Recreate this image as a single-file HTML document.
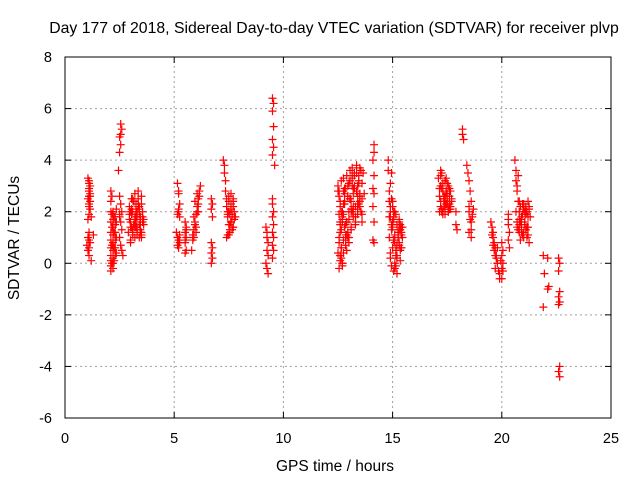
<!DOCTYPE html>
<html><head><meta charset="utf-8"><style>
html,body{margin:0;padding:0;background:#fff;}
svg{display:block;font-family:"Liberation Sans",sans-serif;}
</style></head><body>
<svg id="chart" width="640" height="480">
<text x="334" y="33" font-size="15.8" text-anchor="middle">Day 177 of 2018, Sidereal Day-to-day VTEC variation (SDTVAR) for receiver plvp</text>
<text x="335" y="471" font-size="15.5" text-anchor="middle">GPS time / hours</text>
<text x="0" y="0" font-size="15.5" text-anchor="middle" transform="translate(19,238) rotate(-90)">SDTVAR / TECUs</text>
<g id="grid"></g>
<g id="ticks"></g>
<g id="marks"></g>
<rect x="65" y="57" width="546" height="361" fill="none" stroke="#000" stroke-width="1"/>
</svg>
<script>
const xTicks=[0,5,10,15,20,25];
const yTicks=[-6,-4,-2,0,2,4,6,8];
const hours=[
1.05,1.1,1.1,1.15,1.1,1.05,1.1,1.15,1.1,1.2,1.05,1.1,1.15,1.1,1.05,1.1,1.0,1.05,1.1,1.3,1.2,
2.1,2.1,2.1,2.1,2.1,2.1,2.1,2.1,2.1,2.1,2.1,2.2,2.2,2.2,2.2,2.2,2.2,2.2,2.2,2.2,2.3,2.3,2.3,2.3,2.3,2.3,
2.55,2.6,2.55,2.5,2.55,2.5,2.45,2.5,2.55,2.6,2.5,2.55,2.6,2.5,2.55,2.6,2.65,2.5,
2.9,2.95,3.0,3.0,3.05,3.1,3.1,3.15,3.2,3.2,3.25,3.3,3.3,3.35,3.4,3.4,3.45,3.5,3.5,3.55,3.6,2.95,3.05,3.15,3.25,3.35,3.45,3.55,3.0,3.2,3.4,3.1,3.3,3.5,
5.15,5.2,5.2,5.25,5.2,5.15,5.1,5.15,5.2,5.25,5.15,5.2,
5.5,5.55,5.5,5.55,5.5,5.55,5.5,
5.8,5.85,5.9,5.95,6.0,6.05,6.1,6.15,6.2,5.85,5.95,6.05,6.15,5.9,6.0,6.1,
6.7,6.75,6.7,6.75,6.7,6.75,6.7,6.75,6.7,
7.25,7.3,7.3,7.35,7.35,7.4,7.4,7.45,7.5,7.5,7.55,7.6,7.6,7.65,7.7,7.7,7.75,7.45,7.55,7.65,7.5,7.6,7.7,7.4,7.6,
9.2,9.25,9.25,9.3,9.25,9.3,9.2,9.25,9.3,9.5,9.5,9.55,9.5,9.55,9.5,9.55,9.5,9.55,9.5,9.5,9.55,9.5,9.55,9.5,9.55,9.5,9.6,
12.5,12.5,12.55,12.55,12.6,12.6,12.6,12.65,12.65,12.7,12.7,12.75,12.75,12.8,12.8,12.85,12.9,12.9,12.95,13.0,13.0,13.05,13.1,13.1,13.15,13.2,13.2,13.25,13.3,13.3,13.35,13.4,13.4,13.45,13.5,13.5,13.55,13.6,13.6,13.65,13.7,12.55,12.65,12.75,12.85,12.95,13.05,13.15,12.6,12.7,12.8,12.9,13.0,13.1,13.2,13.3,13.4,13.5,13.6,12.5,12.6,12.7,
14.15,14.15,14.1,14.15,14.1,14.15,14.1,14.15,14.1,14.15,
14.8,14.8,14.85,14.85,14.9,14.9,14.9,14.95,14.95,15.0,15.0,15.05,15.05,15.1,15.1,15.15,15.2,15.2,15.25,15.3,15.3,15.35,15.4,15.4,15.45,14.85,14.95,15.05,15.15,15.25,15.35,14.9,15.0,15.1,15.2,15.3,15.4,
17.1,17.15,17.2,17.2,17.25,17.3,17.3,17.35,17.4,17.4,17.45,17.5,17.5,17.55,17.6,17.6,17.65,17.7,17.15,17.25,17.35,17.45,17.55,17.65,17.2,17.4,17.6,17.9,17.9,17.95,
18.2,18.2,18.25,18.4,18.45,18.5,18.5,18.55,18.6,18.6,18.65,18.7,18.5,18.6,
19.5,19.55,19.6,19.6,19.65,19.7,19.7,19.75,19.8,19.8,19.85,19.9,19.7,
20.0,20.0,20.05,20.05,20.0,20.05,20.3,20.3,20.35,20.3,20.35,20.3,
20.6,20.65,20.65,20.7,20.7,20.75,20.8,20.8,20.85,20.9,20.9,20.95,21.0,21.0,21.05,21.1,21.1,21.15,21.2,21.2,21.25,21.3,20.7,20.8,20.9,21.0,21.1,21.2,
21.9,21.95,21.9,22.1,22.15,22.1,
22.6,22.65,22.6,22.65,22.6,22.65,22.6,22.65,22.6,22.65,
1.1,1.15,1.1,1.15,1.1,1.15,1.1,
2.15,2.15,2.15,2.15,2.15,2.25,2.25,2.25,2.25,2.35,2.35,2.35,2.35,
2.95,3.0,3.05,3.1,3.15,3.2,3.25,3.3,3.35,3.4,3.45,3.5,3.55,3.0,3.1,3.2,3.3,3.4,3.5,3.6,3.05,3.15,3.25,3.35,3.45,
5.2,5.25,5.2,5.25,5.55,5.5,5.9,6.0,6.1,5.95,6.05,
7.45,7.5,7.55,7.6,7.65,7.7,7.75,7.5,7.6,7.7,7.8,7.45,7.55,
12.55,12.6,12.65,12.7,12.75,12.8,12.85,12.9,12.95,13.0,13.05,13.1,13.15,13.2,13.25,13.3,13.35,13.4,13.45,13.5,13.55,13.6,12.55,12.6,12.65,12.7,12.75,12.8,12.85,12.9,12.95,13.0,13.05,13.1,13.15,13.2,13.25,13.3,13.35,13.4,13.45,13.5,12.55,12.65,12.75,12.85,12.95,13.05,13.15,13.25,13.35,13.45,12.6,12.7,12.8,
14.85,14.9,14.95,15.0,15.05,15.1,15.15,15.2,15.25,15.3,15.35,15.4,15.45,14.9,15.0,15.1,15.2,15.3,15.4,15.05,15.15,15.25,15.35,14.95,15.05,
17.15,17.2,17.25,17.3,17.35,17.4,17.45,17.5,17.55,17.6,17.65,17.2,17.3,17.4,17.5,17.6,17.7,17.25,17.35,17.45,17.55,18.5,18.55,18.6,18.65,
19.55,19.6,19.65,19.75,19.8,19.9,19.95,20.0,
20.65,20.7,20.75,20.8,20.85,20.9,20.95,21.0,21.05,21.1,21.15,21.2,21.25,20.75,20.85,20.95,21.05,21.15,21.25,20.8,20.9,21.0,21.1
];
const sdtvar=[
3.3,3.1,2.9,2.7,2.6,2.5,2.3,2.1,1.9,1.8,1.7,2.8,2.6,1.2,1.0,0.9,0.7,0.5,0.3,1.1,0.1,
2.8,2.4,2.0,1.6,1.2,0.9,0.6,0.3,0.1,-0.1,-0.3,2.0,1.7,1.4,1.1,0.8,0.5,0.2,0.0,-0.2,1.8,1.5,1.2,0.9,0.6,0.3,
5.4,5.2,5.0,4.9,4.6,4.3,3.6,2.6,2.3,2.0,1.8,1.6,1.3,1.0,0.7,0.5,0.3,1.9,
1.2,2.2,1.6,0.9,2.5,1.1,2.0,1.5,2.7,1.0,2.3,1.8,1.3,2.8,1.0,2.1,1.6,2.6,1.2,2.0,1.5,1.9,1.4,2.4,1.7,2.2,1.3,1.8,0.8,1.4,1.9,2.5,2.0,1.1,
3.1,2.8,2.7,2.3,2.0,1.9,1.2,1.0,0.9,0.8,0.7,0.6,
1.6,1.4,1.2,1.0,0.8,0.5,0.4,
0.5,0.9,1.3,1.6,1.9,2.2,2.5,2.8,3.0,1.1,1.5,2.0,2.6,1.8,1.2,2.3,
2.5,2.3,2.1,1.8,0.8,0.6,0.4,0.2,0.0,
4.0,3.8,3.5,3.2,2.8,2.5,2.2,1.9,1.5,2.4,1.2,2.1,1.6,1.8,1.4,2.2,1.7,1.1,1.9,1.3,2.0,1.6,2.5,1.0,2.7,
1.4,1.2,1.0,0.8,0.5,0.3,0.0,-0.2,-0.4,2.5,2.3,2.0,1.8,1.5,1.2,1.0,0.7,0.5,0.2,6.4,6.2,5.9,5.3,4.8,4.5,4.2,3.8,
3.0,0.4,2.6,-0.2,2.2,0.1,1.2,3.2,0.6,1.8,-0.1,2.8,0.4,1.4,2.3,0.9,3.4,1.6,2.6,0.8,2.0,3.6,1.4,2.4,3.7,1.8,2.9,3.5,2.2,1.6,3.8,2.6,1.9,3.4,2.4,3.7,2.0,3.1,1.6,3.5,2.7,1.0,2.0,3.3,2.9,1.2,2.5,3.0,0.3,1.7,2.4,1.1,3.1,2.1,2.7,1.5,3.0,2.2,1.9,2.8,1.6,0.0,
4.6,4.3,4.0,3.4,2.9,2.7,2.2,1.6,0.9,0.8,
4.0,3.6,2.4,1.0,2.0,0.2,3.1,1.5,-0.1,2.2,0.6,1.8,-0.3,1.1,2.0,0.5,1.5,-0.4,1.2,0.8,1.7,0.1,1.4,0.6,1.0,2.8,1.3,0.9,0.3,1.0,1.3,1.8,2.4,0.0,0.7,1.6,1.2,
3.3,2.6,3.0,2.2,3.5,2.8,2.0,2.5,3.2,1.9,2.7,2.3,3.1,2.0,2.6,2.9,2.2,2.4,2.0,2.9,2.5,3.3,2.1,2.8,3.6,2.4,2.1,2.0,1.5,1.3,
5.2,5.0,4.8,3.8,3.5,3.2,2.0,2.8,1.6,2.4,1.9,2.1,1.2,1.0,
1.6,1.4,1.2,1.0,0.8,0.6,0.3,0.2,0.6,0.0,-0.3,-0.6,-0.2,
0.8,0.3,0.0,-0.3,-0.6,0.5,1.9,1.5,1.2,0.9,0.6,1.7,
4.0,3.6,3.2,2.8,1.6,2.4,1.2,2.0,0.9,1.8,1.4,2.3,1.0,2.1,1.6,2.2,1.3,2.0,2.4,1.1,2.1,1.8,3.0,1.5,1.7,1.2,1.9,1.4,
0.3,-0.4,-1.7,0.2,-0.9,-1.0,
0.2,0.0,-0.3,-1.1,-1.3,-1.5,-1.6,-4.0,-4.2,-4.4,
3.2,3.0,2.8,2.4,2.2,0.8,0.6,
2.6,1.9,1.4,0.7,0.0,1.8,1.2,0.6,0.1,2.1,1.6,1.0,0.4,
1.7,1.4,2.1,1.3,2.4,1.7,2.0,1.1,2.3,1.5,1.8,2.3,1.6,2.0,1.2,1.8,1.4,2.2,1.0,1.7,1.9,1.5,1.4,2.5,1.2,
2.1,1.8,0.9,1.1,1.3,0.9,1.0,1.4,2.0,2.4,2.7,
1.8,2.6,1.5,2.3,1.9,1.4,2.0,1.1,1.6,2.4,1.8,2.0,1.3,
2.8,1.5,0.2,2.0,0.9,2.7,1.1,0.5,3.0,1.7,2.5,1.3,3.3,2.1,2.9,1.8,3.5,2.3,3.1,2.7,3.6,2.5,0.8,2.4,1.3,0.0,1.9,2.9,0.7,1.6,2.6,1.0,3.2,2.0,3.4,2.2,3.0,1.8,2.8,2.1,3.2,2.6,1.9,0.6,2.3,1.5,1.0,2.5,2.0,3.4,2.8,2.3,0.3,1.6,2.4,
1.8,0.4,2.5,1.4,0.9,-0.2,1.9,0.3,1.2,0.7,1.5,1.1,1.4,2.2,1.6,0.8,0.2,1.3,0.6,1.7,-0.1,1.0,0.5,3.5,2.0,
2.9,2.4,2.1,3.1,2.6,2.2,2.8,2.4,3.0,2.3,2.1,3.4,1.9,2.6,2.7,2.2,2.5,2.0,2.2,2.3,2.0,2.2,1.7,1.3,1.8,
1.1,0.7,0.5,0.3,0.0,-0.4,0.1,-0.2,
2.0,1.4,3.4,1.7,2.2,1.2,1.9,2.3,1.5,2.1,1.0,1.8,2.2,1.3,1.6,1.1,2.0,1.4,0.8,2.4,1.7,2.2,1.9
];
const NS='http://www.w3.org/2000/svg';
const X0=65,X1=611,Y0=418,Y1=57;
function sx(v){return X0+(v-0)/(25-0)*(X1-X0);}
function sy(v){return Y0-(v-(-6))/(8-(-6))*(Y0-Y1);}
const grid=document.getElementById('grid'),ticks=document.getElementById('ticks'),marks=document.getElementById('marks');
function mk(tag,attrs,parent){const e=document.createElementNS(NS,tag);for(const k in attrs)e.setAttribute(k,attrs[k]);parent.appendChild(e);return e;}
xTicks.forEach(t=>{
  const x=sx(t);
  if(t>0&&t<25){const g=mk('line',{x1:x,y1:Y0,x2:x,y2:Y1,stroke:'#a0a0a0','stroke-dasharray':'2,3'},grid);
  
  }
  mk('line',{x1:x,y1:Y0,x2:x,y2:Y0-6,stroke:'#000'},ticks);
  mk('line',{x1:x,y1:Y1,x2:x,y2:Y1+6,stroke:'#000'},ticks);
  const l=mk('text',{x:x,y:443,'font-size':14.5,'text-anchor':'middle'},ticks);
  l.textContent=t;
  
  
});
yTicks.forEach(t=>{
  const y=sy(t);
  if(t>-6&&t<8){const g=mk('line',{x1:X0,y1:y,x2:X1,y2:y,stroke:'#a0a0a0','stroke-dasharray':'2,3'},grid);
  
  }
  mk('line',{x1:X0,y1:y,x2:X0+6,y2:y,stroke:'#000'},ticks);
  mk('line',{x1:X1,y1:y,x2:X1-6,y2:y,stroke:'#000'},ticks);
  const l=mk('text',{x:52,y:y+5,'font-size':14.5,'text-anchor':'end'},ticks);
  l.textContent=t;
  
  
});
hours.forEach((h,i)=>{
  const x=sx(h),y=sy(sdtvar[i]);
  const p=mk('path',{d:`M${x-4},${y}H${x+4}M${x},${y-4}V${y+4}`,stroke:'#ff0000','stroke-width':1.2,fill:'none'},marks);
  
  
});
</script>
</body></html>
